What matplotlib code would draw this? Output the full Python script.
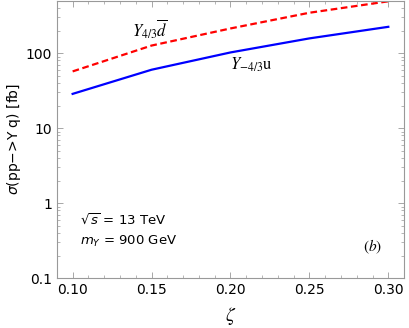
import numpy as np
import matplotlib
matplotlib.use("Agg")
import matplotlib.pyplot as plt
from matplotlib.ticker import MultipleLocator, LogLocator, NullFormatter

# данные
zeta = [0.10, 0.15, 0.20, 0.25, 0.30]
sigma_u = [28.6, 60, 102, 157, 224]     # Y_{-4/3} u
sigma_d = [57, 126, 213, 345, 490]      # Y_{4/3} dbar

fig = plt.figure(figsize=(4.09, 3.28), dpi=100)
ax = fig.add_axes([0.139, 0.152, 0.849, 0.846])

ax.plot(zeta, sigma_d, color='red', lw=1.6, ls=(0, (3, 1.6)))
ax.plot(zeta, sigma_u, color='blue', lw=1.6)

ax.set_yscale('log')
ax.set_xlim(0.09, 0.31)
ax.set_ylim(0.1, 500)

ax.xaxis.set_major_locator(MultipleLocator(0.05))
ax.xaxis.set_minor_locator(MultipleLocator(0.01))
ax.xaxis.set_major_formatter(plt.FuncFormatter(lambda v, p: '%.2f' % v))
ax.yaxis.set_major_locator(LogLocator(base=10, numticks=10))
ax.yaxis.set_minor_locator(LogLocator(base=10, subs=np.arange(2, 10), numticks=10))
ax.yaxis.set_minor_formatter(NullFormatter())
ax.yaxis.set_major_formatter(plt.FuncFormatter(lambda v, p: '%g' % v))

ax.tick_params(which='both', direction='in', top=True, right=True, color='#999999', labelsize=10)
ax.tick_params(which='major', length=4, width=0.6)
ax.tick_params(which='minor', length=2, width=0.5)
for s in ax.spines.values():
    s.set_color('#999999')
    s.set_linewidth(0.8)

ax.set_xlabel(r'$\zeta$', fontsize=14, labelpad=6, math_fontfamily='stix')
ax.set_ylabel(r'$\sigma$(pp$-$>Y q) [fb]', fontsize=10, labelpad=2)

ax.text(0.149, 210, r'$Y_{4/3}\overline{d}$', fontsize=12, ha='center', va='center', math_fontfamily='stix')
ax.text(0.213, 69, r'$Y_{-4/3}\mathrm{u}$', fontsize=12, ha='center', va='center', math_fontfamily='stix')
ax.text(0.1046, 0.51, r'$\sqrt{s}$ = 13 TeV', fontsize=9.5)
ax.text(0.1046, 0.28, r'$m_Y$ = 900 GeV', fontsize=9.5)
ax.text(0.284, 0.23, r'$(b)$', fontsize=11, math_fontfamily='stix')

fig.savefig('out.png', dpi=100)
